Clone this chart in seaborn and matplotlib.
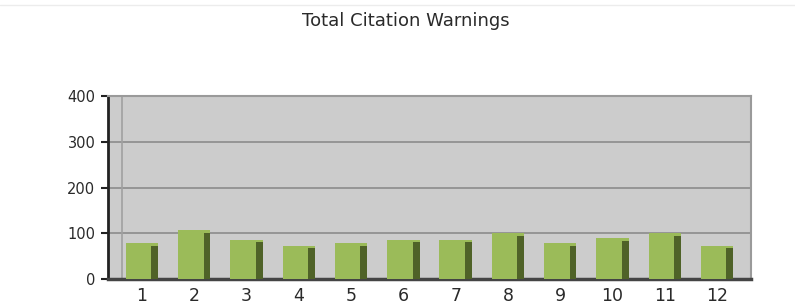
import numpy as np
import pandas as pd
import matplotlib
matplotlib.use("Agg")
import matplotlib.pyplot as plt
from matplotlib.lines import Line2D
import seaborn as sns

# data
months = ["1", "2", "3", "4", "5", "6", "7", "8", "9", "10", "11", "12"]
warnings = [79, 107, 86, 73, 79, 86, 86, 101, 79, 90, 101, 73]
y_ticks = [0, 100, 200, 300, 400]

df = pd.DataFrame({"month": months, "warnings": warnings})

sns.set_theme(style="white")
plt.rcParams["font.family"] = ["DejaVu Sans"]

fig = plt.figure(figsize=(7.95, 3.06), dpi=100)
fig.patch.set_facecolor("white")
ax = fig.add_axes([108 / 795, 1 - 279 / 306, (751 - 108) / 795, (279 - 96) / 306])
ax.set_facecolor("#cccccc")

# face of each bar
sns.barplot(data=df, x="month", y="warnings", color="#9bbb59", width=0.62,
            saturation=1, edgecolor="none", ax=ax, zorder=3)
# darker side strip for the pseudo-3D look
xs = np.arange(len(months))
vals = np.array(warnings, dtype=float)
ax.bar(xs + 0.245, vals - 6, width=0.13, color="#4f6228", zorder=4, linewidth=0)

ax.set_xlim(-0.65, 11.65)
ax.set_ylim(0, 400)
ax.set_yticks(y_ticks)
ax.set_yticklabels([str(t) for t in y_ticks])
ax.set_xlabel("")
ax.set_ylabel("")

# grid lines and left wall
for t in y_ticks[1:]:
    ax.axhline(t, color="#8c8c8c", lw=1.2, zorder=1)
ax.axvline(-0.38, color="#a0a0a0", lw=1.2, zorder=1)

for s in ["top", "right"]:
    ax.spines[s].set_color("#9a9a9a")
    ax.spines[s].set_linewidth(1.5)
ax.spines["left"].set_color("#222222")
ax.spines["left"].set_linewidth(2)
ax.spines["bottom"].set_color("#444444")
ax.spines["bottom"].set_linewidth(2.5)

ax.tick_params(axis="y", which="both", left=True, length=5, width=1.5,
               color="#222222", labelsize=10.5, labelcolor="#2a2a2a", pad=4)
ax.tick_params(axis="x", which="both", bottom=False, labelsize=12.5,
               labelcolor="#2a2a2a", pad=0)

fig.text(0.511, 0.932, "Total Citation Warnings", ha="center", va="center",
         fontsize=13, color="#2a2a2a")

# faint frame line along the top
fig.add_artist(Line2D([0, 1], [1 - 5 / 306, 1 - 5 / 306], color="#ececec", lw=1))

fig.savefig("out.png", dpi=100)
